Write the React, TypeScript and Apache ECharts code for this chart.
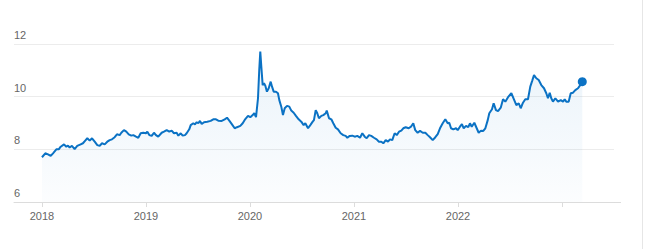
import React, { useEffect, useRef } from "react";
import * as echarts from "echarts";

// Decimal years (time) and values
const years: number[] = [
  2018.0, 2018.032, 2018.058, 2018.084, 2018.106, 2018.138, 2018.161, 2018.18, 2018.212, 2018.234,
  2018.25, 2018.266, 2018.288, 2018.314, 2018.339, 2018.372, 2018.394, 2018.416, 2018.436, 2018.459,
  2018.481, 2018.507, 2018.532, 2018.555, 2018.577, 2018.603, 2018.628, 2018.651, 2018.673, 2018.699,
  2018.721, 2018.747, 2018.763, 2018.788, 2018.811, 2018.834, 2018.859, 2018.878, 2018.904, 2018.926,
  2018.949, 2018.974, 2019.0, 2019.013, 2019.032, 2019.055, 2019.077, 2019.096, 2019.118, 2019.151,
  2019.173, 2019.199, 2019.224, 2019.247, 2019.269, 2019.295, 2019.311, 2019.334, 2019.353, 2019.375,
  2019.391, 2019.416, 2019.43, 2019.455, 2019.471, 2019.488, 2019.503, 2019.519, 2019.536, 2019.558,
  2019.589, 2019.622, 2019.647, 2019.673, 2019.695, 2019.728, 2019.757, 2019.779, 2019.801, 2019.827,
  2019.853, 2019.875, 2019.907, 2019.93, 2019.955, 2019.981, 2020.003, 2020.026, 2020.041, 2020.058,
  2020.077, 2020.089, 2020.099, 2020.109, 2020.122, 2020.135, 2020.147, 2020.163, 2020.18, 2020.199,
  2020.212, 2020.228, 2020.25, 2020.269, 2020.282, 2020.301, 2020.317, 2020.334, 2020.356, 2020.378,
  2020.397, 2020.42, 2020.442, 2020.468, 2020.493, 2020.516, 2020.532, 2020.558, 2020.58, 2020.603,
  2020.615, 2020.632, 2020.647, 2020.663, 2020.686, 2020.705, 2020.728, 2020.738, 2020.76, 2020.782,
  2020.801, 2020.824, 2020.846, 2020.872, 2020.897, 2020.92, 2020.936, 2020.959, 2020.984, 2021.007,
  2021.032, 2021.058, 2021.08, 2021.103, 2021.122, 2021.144, 2021.166, 2021.192, 2021.218, 2021.24,
  2021.263, 2021.282, 2021.305, 2021.327, 2021.346, 2021.368, 2021.391, 2021.411, 2021.433, 2021.455,
  2021.474, 2021.497, 2021.526, 2021.548, 2021.57, 2021.589, 2021.612, 2021.635, 2021.661, 2021.686,
  2021.709, 2021.731, 2021.757, 2021.782, 2021.805, 2021.827, 2021.853, 2021.878, 2021.901, 2021.916,
  2021.933, 2021.955, 2021.981, 2021.997, 2022.019, 2022.038, 2022.055, 2022.077, 2022.099, 2022.115,
  2022.132, 2022.157, 2022.18, 2022.199, 2022.221, 2022.243, 2022.263, 2022.286, 2022.301, 2022.327,
  2022.343, 2022.365, 2022.385, 2022.411, 2022.433, 2022.455, 2022.481, 2022.513, 2022.538, 2022.561,
  2022.584, 2022.603, 2022.625, 2022.647, 2022.673, 2022.695, 2022.714, 2022.731, 2022.753, 2022.776,
  2022.801, 2022.827, 2022.849, 2022.865, 2022.882, 2022.897, 2022.913, 2022.936, 2022.962, 2022.988,
  2023.01, 2023.026, 2023.041, 2023.064, 2023.084, 2023.106, 2023.128, 2023.154, 2023.17, 2023.195,
];

const values: number[] = [
  7.7, 7.85, 7.81, 7.75, 7.85, 8.0, 8.0, 8.1, 8.19, 8.1,
  8.14, 8.07, 8.13, 8.01, 8.13, 8.19, 8.23, 8.33, 8.42, 8.33,
  8.42, 8.29, 8.16, 8.13, 8.23, 8.19, 8.29, 8.35, 8.38, 8.46,
  8.57, 8.54, 8.63, 8.73, 8.67, 8.57, 8.52, 8.54, 8.48, 8.44,
  8.61, 8.63, 8.61, 8.67, 8.54, 8.51, 8.63, 8.54, 8.48, 8.63,
  8.67, 8.73, 8.67, 8.71, 8.61, 8.63, 8.52, 8.61, 8.52, 8.54,
  8.61, 8.76, 8.92, 8.99, 8.95, 9.03, 8.99, 9.08, 8.96, 9.03,
  9.05, 9.08, 9.14, 9.14, 9.09, 9.08, 9.14, 9.2, 9.09, 8.95,
  8.8, 8.84, 8.89, 8.99, 9.15, 9.27, 9.22, 9.3, 9.37, 9.22,
  9.94, 11.01, 11.71, 11.14, 10.44, 10.51, 10.42, 10.19, 10.32, 10.57,
  10.38, 10.19, 10.19, 10.13, 9.87, 9.62, 9.3, 9.56, 9.65, 9.62,
  9.47, 9.39, 9.27, 9.14, 9.05, 8.92, 8.99, 8.8, 8.92, 9.05,
  9.11, 9.49, 9.37, 9.18, 9.27, 9.3, 9.37, 9.47, 9.18, 9.14,
  8.99, 8.82, 8.76, 8.61, 8.54, 8.51, 8.44, 8.51, 8.52, 8.48,
  8.51, 8.44, 8.61, 8.48, 8.42, 8.54, 8.51, 8.44, 8.38, 8.29,
  8.29, 8.23, 8.35, 8.29, 8.38, 8.35, 8.61, 8.54, 8.67, 8.71,
  8.8, 8.84, 8.8, 8.86, 8.99, 8.73, 8.63, 8.7, 8.63, 8.63,
  8.54, 8.46, 8.35, 8.46, 8.58, 8.8, 8.99, 9.14, 8.99, 9.01,
  8.8, 8.76, 8.8, 8.73, 8.86, 8.96, 8.8, 8.89, 8.84, 8.99,
  8.86, 9.01, 8.8, 8.63, 8.71, 8.7, 8.8, 9.11, 9.37, 9.52,
  9.75, 9.49, 9.45, 9.58, 9.9, 9.81, 9.98, 10.13, 9.9, 9.68,
  9.75, 9.56, 9.77, 9.9, 9.9, 10.38, 10.61, 10.82, 10.7, 10.63,
  10.44, 10.32, 10.13, 9.94, 10.15, 9.94, 9.81, 9.94, 9.81, 9.87,
  9.81, 9.9, 9.81, 9.81, 10.13, 10.15, 10.25, 10.32, 10.41, 10.57,
];

const xTickYears: number[] = [2018, 2019, 2020, 2021, 2022, 2023];
const xLabelYears: number[] = [2018, 2019, 2020, 2021, 2022];

const LINE = "#0b72c4";

export default function App() {
  const ref = useRef<HTMLDivElement>(null);

  useEffect(() => {
    if (!ref.current) return;
    const chart = echarts.init(ref.current, undefined, { renderer: "svg" });
    const data = years.map((y, i) => [y, values[i]]);
    const last = data[data.length - 1];
    chart.setOption({
      animation: false,
      grid: { left: 14, right: 35, top: 44, bottom: 47, containLabel: false },
      xAxis: {
        type: "value",
        min: 2017.731,
        max: 2023.5,
        splitLine: { show: false },
        axisLine: { show: true, lineStyle: { color: "#dcdcdc", width: 1 } },
        axisTick: {
          show: true,
          length: 5,
          customValues: xTickYears,
          lineStyle: { color: "#dcdcdc" },
        },
        axisLabel: {
          customValues: xLabelYears,
          color: "#666",
          fontSize: 11,
          fontFamily: "Liberation Sans, Arial, sans-serif",
          margin: 8,
          formatter: (v: number) => String(Math.round(v)),
        },
      },
      yAxis: {
        type: "value",
        min: 6,
        max: 12,
        interval: 2,
        axisLine: { show: false },
        axisTick: { show: false },
        splitLine: { show: true, lineStyle: { color: "#ececec", width: 1 } },
        axisLabel: {
          inside: true,
          margin: 0,
          color: "#666",
          fontSize: 11,
          fontFamily: "Liberation Sans, Arial, sans-serif",
          verticalAlign: "bottom",
          lineHeight: 12,
          padding: [0, 0, 3, 0],
        },
      },
      series: [
        {
          type: "line",
          data,
          showSymbol: false,
          symbol: "none",
          lineStyle: { color: LINE, width: 2 },
          areaStyle: {
            color: new echarts.graphic.LinearGradient(0, 0, 0, 1, [
              { offset: 0, color: "rgba(11,114,196,0.12)" },
              { offset: 1, color: "rgba(11,114,196,0.02)" },
            ]),
          },
          z: 2,
        },
        {
          type: "scatter",
          data: [last],
          symbol: "circle",
          symbolSize: 9,
          itemStyle: { color: LINE, opacity: 1 },
          z: 3,
        },
      ],
      graphic: [
        {
          type: "line",
          shape: { x1: 614, y1: 202.5, x2: 621, y2: 202.5 },
          style: { stroke: "#dcdcdc", lineWidth: 1 },
        },
        {
          type: "line",
          shape: { x1: 642.5, y1: 0, x2: 642.5, y2: 249 },
          style: { stroke: "#e6e6e6", lineWidth: 1 },
        },
      ],
    });
    return () => chart.dispose();
  }, []);

  return (
    <div
      ref={ref}
      style={{ position: "fixed", left: 0, top: 0, width: 649, height: 249, background: "#fff" }}
    />
  );
}
